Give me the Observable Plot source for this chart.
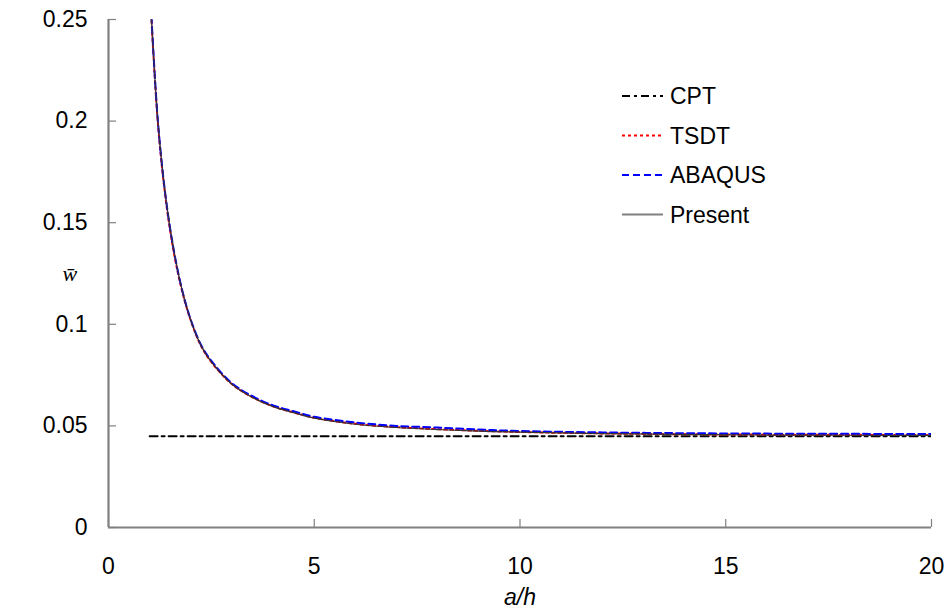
<!DOCTYPE html>
<html>
<head>
<meta charset="utf-8">
<script src="https://cdn.jsdelivr.net/npm/d3@7"></script>
<script src="https://cdn.jsdelivr.net/npm/@observablehq/plot@0.6"></script>
<style>
  html, body { margin: 0; padding: 0; background: #fff; }
  #wrap { position: relative; width: 950px; height: 616px; }
  #legend { position: absolute; left: 0; top: 0; }
</style>
</head>
<body>
<div id="wrap"></div>
<script>
// ---- data ----
const aOverH  = [1, 1.2, 1.4, 1.6, 1.8, 2, 2.25, 2.5, 3, 3.5, 4, 4.5, 5, 6, 7, 8, 9, 10, 12, 14, 16, 18, 20];
const presentW = [0.268, 0.200, 0.161, 0.135, 0.116, 0.102, 0.0895, 0.0815, 0.0705, 0.0640, 0.0595, 0.0565, 0.0538, 0.0508, 0.0492, 0.0482, 0.0474, 0.0469, 0.0462, 0.0458, 0.0455, 0.0454, 0.0453];
const tsdtW    = [0.267, 0.199, 0.160, 0.134, 0.1155, 0.1018, 0.0893, 0.0814, 0.0705, 0.0641, 0.0596, 0.0566, 0.0540, 0.0510, 0.0494, 0.0484, 0.0476, 0.0470, 0.0463, 0.0459, 0.0457, 0.0456, 0.0455];
const abaqusW  = [0.268, 0.200, 0.161, 0.135, 0.116, 0.1022, 0.0898, 0.0820, 0.0710, 0.0646, 0.0601, 0.0572, 0.0545, 0.0517, 0.0500, 0.0492, 0.0482, 0.0475, 0.0468, 0.0464, 0.0462, 0.0461, 0.0460];
const cptX = [1, 20];
const cptW = [0.0449, 0.0449];
const xTicks = [0, 5, 10, 15, 20];
const yTicks = [0, 0.05, 0.1, 0.15, 0.2, 0.25];
const yTickLabels = ["0", "0.05", "0.1", "0.15", "0.2", "0.25"];
const seriesNames = ["CPT", "TSDT", "ABAQUS", "Present"];

// ---- styles ----
const styles = {
  CPT:     {stroke: "#000000", strokeWidth: 2, dash: "8,4,3,4"},
  TSDT:    {stroke: "#ff0000", strokeWidth: 2, dash: "3,3"},
  ABAQUS:  {stroke: "#0000ff", strokeWidth: 2, dash: "7,4"},
  Present: {stroke: "#333333", strokeWidth: 1.2, dash: null}
};

const rows = (xs, ys, name) => xs.map((x, i) => ({x, y: ys[i], s: name}));
const cpt = rows(cptX, cptW, "CPT");
const tsdt = rows(aOverH, tsdtW, "TSDT");
const abaqus = rows(aOverH, abaqusW, "ABAQUS");
const present = rows(aOverH, presentW, "Present");

const W = 950, H = 616;
const mL = 108, mR = 19, mT = 19, mB = 89;
const innerW = W - mL - mR, innerH = H - mT - mB;
const axisGray = "#808080";
const FONT = "'Liberation Sans', Arial, sans-serif";
const FS = 23;

const lineOpts = (name) => {
  const s = styles[name];
  const o = {x: "x", y: "y", stroke: s.stroke, strokeWidth: s.strokeWidth, clip: true, curve: "catmull-rom"};
  if (s.dash) o.strokeDasharray = s.dash;
  return o;
};

const chart = Plot.plot({
  width: W, height: H,
  marginLeft: mL, marginRight: mR, marginTop: mT, marginBottom: mB,
  style: {fontFamily: FONT, fontSize: FS + "px", color: "#000", background: "#fff"},
  x: {domain: [0, 20]},
  y: {domain: [0, 0.25]},
  marks: [
    Plot.axisX({ticks: xTicks, tickSize: 0, tickPadding: 30, fontSize: FS, label: null, tickFormat: d => String(d)}),
    Plot.axisY({ticks: yTicks, tickSize: 0, tickPadding: 21, fontSize: FS, label: null, tickFormat: d => yTickLabels[yTicks.indexOf(d)]}),
    Plot.tickX(xTicks, {x: d => d, stroke: axisGray, strokeWidth: 1.2, insetTop: innerH - 8}),
    Plot.tickY(yTicks, {y: d => d, stroke: axisGray, strokeWidth: 1.2, insetRight: innerW - 8}),
    Plot.line(cpt, lineOpts("CPT")),
    Plot.line(tsdt, lineOpts("TSDT")),
    Plot.line(abaqus, lineOpts("ABAQUS")),
    Plot.line(present, lineOpts("Present")),
    Plot.ruleX([0], {stroke: axisGray, strokeWidth: 2.2}),
    Plot.ruleY([0], {stroke: axisGray, strokeWidth: 2.2}),
    Plot.text(["a/h"], {frameAnchor: "bottom", dy: 77, fontSize: 23, fontStyle: "italic", fill: "#000", fontFamily: FONT}),
    Plot.text(["w\u0304"], {frameAnchor: "left", dx: -46, dy: 0, fontSize: 22, fontStyle: "italic", fill: "#000", fontFamily: "'Liberation Serif', 'DejaVu Serif', serif"})
  ]
});

const wrap = document.getElementById("wrap");
wrap.appendChild(chart);

// ---- legend (overlay) ----
const leg = d3.create("svg").attr("id", "legend").attr("width", W).attr("height", H)
  .style("pointer-events", "none");
const lx0 = 622, lx1 = 663, tx = 670, ly0 = 96, ldy = 39.5;
seriesNames.forEach((name, i) => {
  const s = styles[name];
  const y = ly0 + i * ldy;
  const ln = leg.append("line").attr("x1", lx0).attr("x2", lx1).attr("y1", y).attr("y2", y)
    .attr("stroke", name === "Present" ? "#808080" : s.stroke).attr("stroke-width", 2);
  if (s.dash) ln.attr("stroke-dasharray", s.dash);
  leg.append("text").attr("x", tx).attr("y", y).attr("dy", "0.35em")
    .attr("font-family", FONT).attr("font-size", FS)
    .attr("fill", "#000").text(name);
});
wrap.appendChild(leg.node());
</script>
</body>
</html>
